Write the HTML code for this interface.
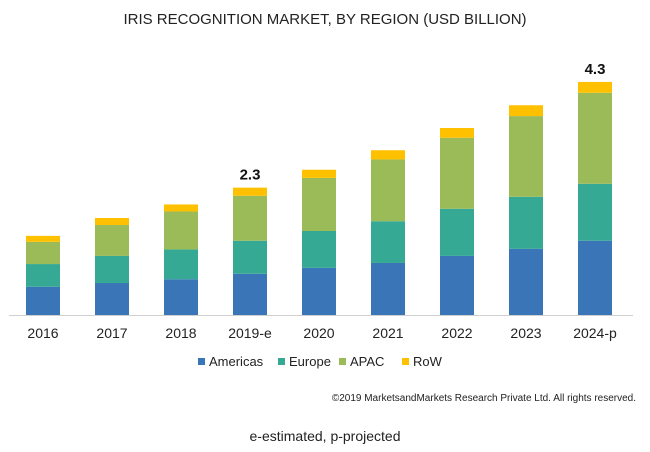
<!DOCTYPE html>
<html><head><meta charset="utf-8"><style>
body{margin:0;background:#fff;font-family:"Liberation Sans",sans-serif}
svg{display:block}
</style></head><body>
<svg id="chart" width="650" height="452">
<text x="325" y="24" text-anchor="middle" font-size="15" fill="#222">IRIS RECOGNITION MARKET, BY REGION (USD BILLION)</text>
<line x1="9" y1="315.5" x2="633" y2="315.5" stroke="#d0d0d0" stroke-width="1"/>
<g id="bars"></g>
<g id="legend"></g>
<text x="636" y="401" text-anchor="end" font-size="10" fill="#222">©2019 MarketsandMarkets Research Private Ltd. All rights reserved.</text>
<text x="325" y="441" text-anchor="middle" font-size="14" fill="#222">e-estimated, p-projected</text>
</svg>
<script>
const categories=["2016","2017","2018","2019-e","2020","2021","2022","2023","2024-p"];
const americas=[0.52,0.59,0.66,0.76,0.87,0.96,1.09,1.22,1.37];
const europe=[0.42,0.50,0.55,0.61,0.68,0.77,0.87,0.96,1.05];
const apac=[0.41,0.57,0.70,0.83,0.98,1.14,1.31,1.49,1.68];
const row=[0.11,0.13,0.13,0.15,0.15,0.17,0.18,0.20,0.20];
const totalLabels=["","","","2.3","","","","","4.3"];
const seriesNames=["Americas","Europe","APAC","RoW"];
const colors=["#3a75b8","#36a994","#9bbb59","#ffc000"];
const series=[americas,europe,apac,row];
const NS="http://www.w3.org/2000/svg";
const base=315, scale=54.2, x0=43, step=69, bw=34;
const yS=v=>v*scale;
const xS=i=>x0+i*step;
const g=document.getElementById('bars');
categories.forEach((c,i)=>{
  let cum=0;
  series.forEach((s,k)=>{
    const r=document.createElementNS(NS,'rect');
    const h=yS(s[i]);
    r.setAttribute('x',xS(i)-bw/2);
    r.setAttribute('y',base-yS(cum)-h);
    r.setAttribute('width',bw);
    r.setAttribute('height',h);
    r.setAttribute('fill',colors[k]);
    
    
    g.appendChild(r);
    cum+=s[i];
  });
  const t=document.createElementNS(NS,'text');
  t.setAttribute('x',xS(i));t.setAttribute('y',338);
  t.setAttribute('text-anchor','middle');t.setAttribute('font-size','14');t.setAttribute('fill','#222');
  t.textContent=c;
  
  
  g.appendChild(t);
  if(totalLabels[i]){
    const v=document.createElementNS(NS,'text');
    v.setAttribute('x',xS(i));v.setAttribute('y',base-yS(cum)-8);
    v.setAttribute('text-anchor','middle');v.setAttribute('font-size','15');v.setAttribute('font-weight','bold');v.setAttribute('fill','#111');
    v.textContent=totalLabels[i];
    
    
    g.appendChild(v);
  }
});
const lg=document.getElementById('legend');
const lx=[198,278,339,402];
seriesNames.forEach((n,k)=>{
  const r=document.createElementNS(NS,'rect');
  r.setAttribute('x',lx[k]);r.setAttribute('y',358);r.setAttribute('width',7);r.setAttribute('height',7);r.setAttribute('fill',colors[k]);
  
  
  lg.appendChild(r);
  const t=document.createElementNS(NS,'text');
  t.setAttribute('x',lx[k]+11);t.setAttribute('y',366);t.setAttribute('font-size','13');t.setAttribute('fill','#222');
  t.textContent=n;
  
  
  lg.appendChild(t);
});
</script>
</body></html>
